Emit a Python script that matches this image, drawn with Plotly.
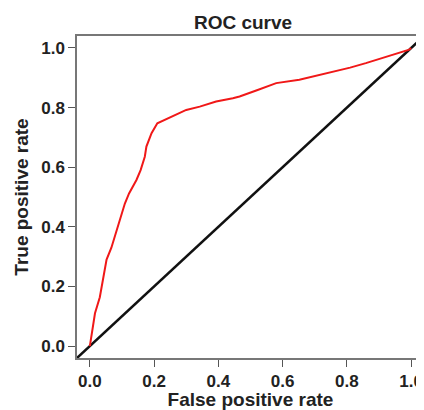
import plotly.graph_objects as go

# ROC curve values
fpr = [0.0, 0.010, 0.016, 0.031, 0.041, 0.052, 0.067, 0.088, 0.109, 0.122, 0.145,
       0.158, 0.171, 0.176, 0.192, 0.210, 0.230, 0.248, 0.300, 0.342, 0.393,
       0.445, 0.466, 0.520, 0.580, 0.652, 0.700, 0.756, 0.810, 0.859, 0.900,
       0.942, 0.994, 1.0]
tpr = [0.0, 0.063, 0.110, 0.164, 0.230, 0.290, 0.330, 0.400, 0.478, 0.512, 0.557,
       0.590, 0.635, 0.669, 0.714, 0.747, 0.757, 0.764, 0.792, 0.803, 0.820,
       0.831, 0.837, 0.858, 0.882, 0.893, 0.905, 0.921, 0.934, 0.949, 0.962,
       0.977, 0.994, 1.0]
diag = [-0.04, 1.04]
tick_vals = [0.0, 0.2, 0.4, 0.6, 0.8, 1.0]
tick_text = ["0.0", "0.2", "0.4", "0.6", "0.8", "1.0"]

FONT = "Liberation Sans, Arial, sans-serif"

fig = go.Figure()
fig.add_trace(go.Scatter(x=diag, y=diag, mode="lines",
                         line=dict(color="#111111", width=2.5), showlegend=False))
fig.add_trace(go.Scatter(x=fpr, y=tpr, mode="lines",
                         line=dict(color="#f01818", width=2), showlegend=False))

axis_common = dict(
    range=[-0.04, 1.04], showgrid=False, zeroline=False, automargin=False,
    showline=True, mirror=True, linecolor="#777777", linewidth=1.5,
    ticks="outside", ticklen=7, tickwidth=1.3, tickcolor="#555555",
    tickvals=tick_vals, ticktext=tick_text,
    tickfont=dict(family=FONT, size=17, color="#222222", weight="bold"),
)

# the page body has an 8px default margin, so the figure is 8px smaller
fig.update_layout(
    width=416, height=402,
    margin=dict(l=69, r=0, t=28, b=52, autoexpand=False),
    paper_bgcolor="white", plot_bgcolor="white",
    title=dict(text="ROC curve", x=0.565, xanchor="center", y=0.965, yanchor="middle",
               xref="container", yref="container", automargin=False,
               font=dict(family=FONT, size=19, color="#222222", weight="bold")),
    xaxis=dict(**axis_common,
               title=dict(text="False positive rate", standoff=7,
                          font=dict(family=FONT, size=19, color="#222222", weight="bold"))),
    yaxis=dict(**axis_common,
               title=dict(text="True positive rate", standoff=8,
                          font=dict(family=FONT, size=19, color="#222222", weight="bold"))),
)

fig.write_html("out.html")
